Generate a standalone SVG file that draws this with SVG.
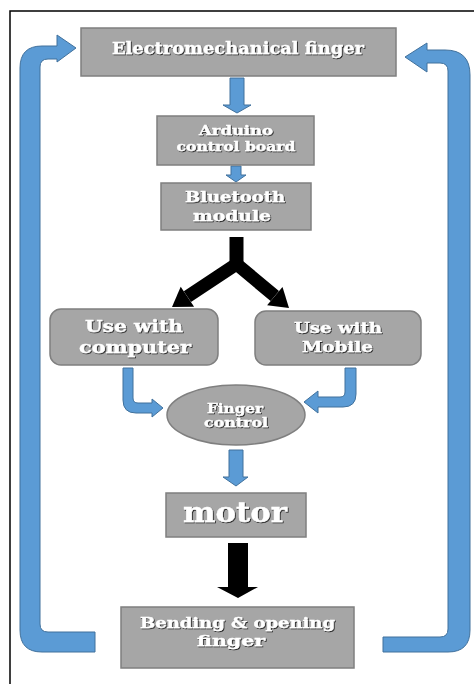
<svg xmlns="http://www.w3.org/2000/svg" width="474" height="684" viewBox="0 0 474 684">
<defs>
<filter id="sh" x="-10%" y="-30%" width="120%" height="160%">
<feDropShadow dx="0.9" dy="0.9" stdDeviation="0.6" flood-color="#222222" flood-opacity="1"/>
</filter>
</defs>
<style>
.box{fill:#a6a6a6;stroke:#7f7f7f;stroke-width:1.5}
.t{fill:#ffffff;stroke:#ffffff;stroke-width:0.35;font-family:"DejaVu Serif","Liberation Serif",serif;font-weight:bold;text-anchor:middle;filter:url(#sh)}
.blue{fill:#5b9bd5;stroke:#41719c;stroke-width:1}
.blk{fill:#000000}
</style>
<rect x="10" y="11" width="480" height="700" fill="#ffffff" stroke="#000000" stroke-width="1.5"/>

<g id="connectors">
<path class="blue" d="M95,632 L48,632 Q40,632 40,624 L40,67 Q40,59 48,59 L57,59 L57,62 L76,48 L57,35 L57,46 L42,46 Q20,46 20,68 L20,630 Q20,652 42,652 L95,652 Z"/>
<path class="blue" d="M383,637 L440,637 Q448,637 448,629 L448,71 Q448,63 440,63 L427,63 L427,72 L405,57 L427,43 L427,50 L445,50 Q470,50 470,75 L470,630 Q470,652 448,652 L383,652 Z"/>
<path class="blue" d="M230,78 L244,78 L244,105 L251,105 L237,113 L223,105 L230,105 Z"/>
<path class="blue" d="M231,166 L241,166 L241,175 L246,175 L236,182 L226,175 L231,175 Z"/>
<g>
<path d="M236.5,237 L236.5,268" stroke="#000" stroke-width="14" fill="none"/>
<path d="M187.4,296.7 L236.5,264 L274.8,296.1" stroke="#000" stroke-width="13" fill="none" stroke-linejoin="miter"/>
<polygon class="blk" points="172,307 194.1,306.7 180.7,286.7"/>
<polygon class="blk" points="289,308 267.1,305.3 282.5,286.9"/>
</g>
<path class="blue" d="M123,368 L133,368 L133,398 Q133,403 138,403 L152,403 L152,399 L163,408 L152,417 L152,413 L136,413 Q123,413 123,400 Z"/>
<path class="blue" d="M345,368 L356,368 L356,394 Q356,407 343,407 L318,407 L318,413 L304,402 L318,391 L318,397 L340,397 Q345,397 345,392 Z"/>
<path class="blue" d="M229,450 L243,450 L243,477 L248,477 L236,486 L223,477 L229,477 Z"/>
<path class="blk" d="M228,543 L248,543 L248,587 L258,587 L238,598 L217,587 L228,587 Z"/>
</g>

<g id="electromechanical-finger">
<rect class="box" x="81" y="28" width="315" height="48"/>
<text class="t" x="238" y="54" font-size="16" textLength="252" lengthAdjust="spacingAndGlyphs">Electromechanical finger</text>
</g>
<g id="arduino">
<rect class="box" x="157" y="116" width="157" height="49"/>
<text class="t" x="236" y="135" font-size="12.5" textLength="74" lengthAdjust="spacingAndGlyphs">Arduino</text>
<text class="t" x="236" y="151" font-size="12.5" textLength="119" lengthAdjust="spacingAndGlyphs">control board</text>
</g>
<g id="bluetooth">
<rect class="box" x="161" y="183" width="150" height="47"/>
<text class="t" x="235" y="202" font-size="14.5" textLength="100" lengthAdjust="spacingAndGlyphs">Bluetooth</text>
<text class="t" x="232" y="221" font-size="14.5" textLength="78" lengthAdjust="spacingAndGlyphs">module</text>
</g>
<g id="use-computer">
<rect class="box" x="50" y="309" width="168" height="56" rx="11"/>
<text class="t" x="134" y="332" font-size="16.5" textLength="98" lengthAdjust="spacingAndGlyphs">Use with</text>
<text class="t" x="135" y="353" font-size="16.5" textLength="112" lengthAdjust="spacingAndGlyphs">computer</text>
</g>
<g id="use-mobile">
<rect class="box" x="255" y="311" width="166" height="54" rx="11"/>
<text class="t" x="338" y="333" font-size="15.5" textLength="88" lengthAdjust="spacingAndGlyphs">Use with</text>
<text class="t" x="337.5" y="352" font-size="15.5" textLength="71" lengthAdjust="spacingAndGlyphs">Mobile</text>
</g>
<g id="finger-control">
<ellipse class="box" cx="236" cy="415" rx="69" ry="30"/>
<text class="t" x="235" y="413" font-size="13" textLength="56" lengthAdjust="spacingAndGlyphs">Finger</text>
<text class="t" x="236" y="427" font-size="13" textLength="64" lengthAdjust="spacingAndGlyphs">control</text>
</g>
<g id="motor">
<rect class="box" x="166" y="493" width="140" height="44"/>
<text class="t" x="235" y="522" font-size="27" textLength="104" lengthAdjust="spacingAndGlyphs">motor</text>
</g>
<g id="bending">
<rect class="box" x="121" y="607" width="233" height="61"/>
<text class="t" x="237.5" y="628" font-size="14.5" textLength="195" lengthAdjust="spacingAndGlyphs">Bending &amp; opening</text>
<text class="t" x="231" y="646" font-size="14.5" textLength="68" lengthAdjust="spacingAndGlyphs">finger</text>
</g>
</svg>
